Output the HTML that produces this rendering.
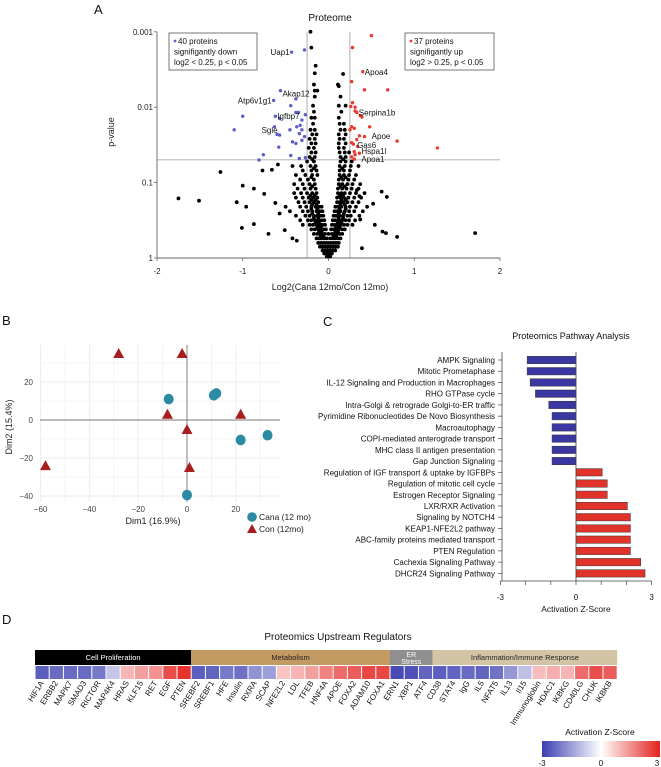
<!DOCTYPE html>
<html><head><meta charset="utf-8"><style>
html,body{margin:0;padding:0;background:#fff;}
svg{display:block;font-family:"Liberation Sans",Arial,sans-serif;}
</style></head><body>
<svg id="fig" width="661" height="767" viewBox="0 0 661 767">
<g id="volcano"></g>
<g id="pca"></g>
<g id="path"></g>
<g id="heat"></g>
</svg>
<script>
// ---------- Volcano data: [log2FC, -log10(p)] ----------
const volcanoBlack = [
[-0.02,0.02],[0,0.02],[0.02,0.02],
[-0.05,0.06],[-0.02,0.06],[0.01,0.06],[0.04,0.06],
[-0.07,0.1],[-0.04,0.1],[-0.01,0.1],[0.02,0.1],[0.05,0.1],[0.08,0.1],
[-0.1,0.15],[-0.07,0.15],[-0.04,0.15],[-0.01,0.15],[0.02,0.15],[0.05,0.15],[0.08,0.15],[0.11,0.15],
[-0.12,0.2],[-0.09,0.2],[-0.06,0.2],[-0.03,0.2],[0,0.2],[0.03,0.2],[0.06,0.2],[0.09,0.2],[0.12,0.2],
[-0.14,0.26],[-0.11,0.26],[-0.08,0.26],[-0.05,0.26],[-0.02,0.26],[0.02,0.26],[0.05,0.26],[0.08,0.26],[0.11,0.26],[0.14,0.26],
[-0.17,0.32],[-0.13,0.32],[-0.1,0.32],[-0.07,0.32],[-0.04,0.32],[0,0.32],[0.04,0.32],[0.07,0.32],[0.1,0.32],[0.13,0.32],[0.16,0.32],
[-0.2,0.38],[-0.16,0.38],[-0.12,0.38],[-0.09,0.38],[-0.06,0.38],[-0.03,0.38],[0.03,0.38],[0.06,0.38],[0.09,0.38],[0.12,0.38],[0.16,0.38],[0.19,0.38],
[-0.22,0.44],[-0.18,0.44],[-0.14,0.44],[-0.1,0.44],[-0.07,0.44],[-0.04,0.44],[0.04,0.44],[0.07,0.44],[0.1,0.44],[0.14,0.44],[0.18,0.44],[0.22,0.44],[-0.3,0.44],[0.28,0.44],
[-0.24,0.5],[-0.2,0.5],[-0.16,0.5],[-0.12,0.5],[-0.08,0.5],[-0.05,0.5],[0.05,0.5],[0.08,0.5],[0.12,0.5],[0.16,0.5],[0.2,0.5],[0.24,0.5],[-0.33,0.5],[0.31,0.5],
[-0.27,0.56],[-0.22,0.56],[-0.17,0.56],[-0.13,0.56],[-0.09,0.56],[-0.06,0.56],[0.06,0.56],[0.09,0.56],[0.13,0.56],[0.17,0.56],[0.22,0.56],[0.26,0.56],[-0.38,0.56],[0.36,0.56],
[-0.3,0.62],[-0.24,0.62],[-0.19,0.62],[-0.14,0.62],[-0.1,0.62],[-0.07,0.62],[0.07,0.62],[0.1,0.62],[0.14,0.62],[0.19,0.62],[0.24,0.62],[0.3,0.62],[-0.45,0.62],[0.4,0.62],
[-0.33,0.68],[-0.26,0.68],[-0.2,0.68],[-0.15,0.68],[-0.11,0.68],[-0.08,0.68],[0.08,0.68],[0.11,0.68],[0.15,0.68],[0.2,0.68],[0.25,0.68],[0.32,0.68],[-0.5,0.68],[0.45,0.68],
[-0.35,0.74],[-0.28,0.74],[-0.22,0.74],[-0.17,0.74],[-0.12,0.74],[0.1,0.74],[0.13,0.74],[0.17,0.74],[0.22,0.74],[0.28,0.74],[0.35,0.74],
[-0.38,0.8],[-0.3,0.8],[-0.23,0.8],[-0.18,0.8],[-0.13,0.8],[0.1,0.8],[0.14,0.8],[0.18,0.8],[0.23,0.8],[0.3,0.8],[0.38,0.8],
[-0.4,0.86],[-0.32,0.86],[-0.25,0.86],[-0.19,0.86],[-0.14,0.86],[0.11,0.86],[0.15,0.86],[0.19,0.86],[0.25,0.86],[0.32,0.86],[0.42,0.86],
[-0.36,0.92],[-0.28,0.92],[-0.21,0.92],[-0.15,0.92],[0.11,0.92],[0.16,0.92],[0.21,0.92],[0.27,0.92],[0.35,0.92],
[-0.4,0.98],[-0.3,0.98],[-0.22,0.98],[-0.16,0.98],[0.12,0.98],[0.16,0.98],[0.22,0.98],[0.28,0.98],[0.37,0.98],
[-0.33,1.04],[-0.24,1.04],[-0.17,1.04],[0.12,1.04],[0.17,1.04],[0.23,1.04],[0.3,1.04],
[-0.38,1.1],[-0.27,1.1],[-0.19,1.1],[-0.13,1.1],[0.13,1.1],[0.18,1.1],[0.24,1.1],[0.32,1.1],
[-0.3,1.16],[-0.2,1.16],[-0.14,1.16],[0.13,1.16],[0.18,1.16],[0.25,1.16],
[-0.42,1.22],[-0.32,1.22],[-0.21,1.22],[-0.15,1.22],[0.13,1.22],[0.19,1.22],[0.26,1.22],[0.35,1.22],
[-0.25,1.28],[-0.17,1.28],[0.14,1.28],[0.2,1.28],[0.27,1.28],
[-0.22,1.34],[-0.16,1.34],[0.14,1.34],[0.2,1.34],
[-0.2,1.4],[-0.15,1.4],[0.13,1.4],[0.19,1.4],[0.24,1.4],
[-0.23,1.46],[-0.17,1.46],[0.12,1.46],[0.18,1.46],
[-0.2,1.52],[-0.15,1.52],[0.12,1.52],[0.2,1.52],
[-0.22,1.58],[-0.16,1.58],[0.13,1.58],[0.18,1.58],
[-0.19,1.64],[-0.14,1.64],[0.12,1.64],[0.2,1.64],
[-0.21,1.7],[-0.16,1.7],[0.14,1.7],[0.19,1.7],
[-0.18,1.78],[0.13,1.78],[0.18,1.78],
[-0.2,1.86],[-0.16,1.86],[0.12,1.86],
[-0.17,1.94],[0.15,1.94],
[-0.18,2.02],[0.12,2.02],[0.2,2.02],
[-0.16,2.14],[0.14,2.14],[-0.16,2.22],[-0.13,2.22],[-0.17,2.3],[0.11,2.3],
[-0.16,2.45],[0.17,2.44],[0.12,2.28],[-0.15,2.55],[-0.2,2.79],[-0.21,3.0],
[-1.75,0.79],[-1.51,0.76],[-1.26,1.14],[-1.0,0.96],[-1.07,0.74],[-0.96,0.68],[-0.87,0.92],[-1.01,0.4],[-0.87,0.45],[-0.7,0.32],
[-0.75,0.85],[-0.59,1.24],[-0.66,1.17],[-0.77,1.16],[-0.62,0.73],[-0.57,0.59],[-0.51,0.37],[-0.42,0.26],[-0.37,0.23],
[1.71,0.33],[0.8,0.28],[0.67,0.33],[0.63,0.35],[0.54,0.44],[0.62,0.88],[0.68,0.81],[0.52,0.72],[0.39,0.13],[0.37,0.51],[0.33,0.9],[0.36,0.82],
[-0.09,0.29],[-0.06,0.29],[0.06,0.29],[0.09,0.29],[-0.11,0.35],[-0.08,0.35],[0.08,0.35],[0.11,0.35],[-0.13,0.41],[-0.09,0.41],[0.09,0.41],[0.13,0.41],
[-0.15,0.47],[-0.11,0.47],[0.11,0.47],[0.15,0.47],[-0.17,0.53],[-0.12,0.53],[0.12,0.53],[0.17,0.53],[-0.19,0.59],[-0.12,0.59],[0.12,0.59],[0.18,0.59],
[-0.2,0.65],[-0.13,0.65],[0.13,0.65],[0.2,0.65],[-0.19,0.71],[-0.14,0.71],[0.14,0.71],[0.19,0.71],[-0.2,0.77],[-0.15,0.77],[0.15,0.77],[0.2,0.77],
[-0.21,0.83],[-0.16,0.83],[0.13,0.83],[0.17,0.83],[-0.19,0.95],[0.14,0.95],[0.19,0.95],[-0.2,1.07],[0.15,1.07],[0.2,1.07],[-0.17,1.19],[0.16,1.19],[-0.19,1.31],[0.17,1.31]
];
const volcanoUp = [
[0.5,2.95],[0.28,2.79],[0.4,2.47],[0.27,2.34],[0.42,2.23],[0.69,2.23],[0.28,2.06],[0.26,2.01],[0.31,2.0],[0.33,1.93],
[0.37,1.89],[0.39,1.87],[0.31,1.95],[0.48,1.74],[0.27,1.74],[0.3,1.72],[0.25,1.7],[0.8,1.55],[1.27,1.46],[0.42,1.61],
[0.36,1.62],[0.33,1.57],[0.27,1.53],[0.29,1.51],[0.34,1.48],[0.3,1.41],[0.36,1.39],[0.31,1.37],[0.27,1.34],[0.3,1.31]
];
const volcanoDown = [
[-0.28,2.76],[-0.43,2.73],[-0.56,2.22],[-0.64,2.09],[-0.38,2.11],[-0.44,2.02],[-1.0,1.88],[-1.1,1.7],[-0.62,1.88],[-0.57,1.85],
[-0.38,1.93],[-0.35,1.93],[-0.27,1.9],[-0.31,1.83],[-0.33,1.76],[-0.37,1.74],[-0.31,1.7],[-0.34,1.65],[-0.28,1.61],[-0.31,1.56],
[-0.42,1.54],[-0.38,1.52],[-0.45,1.7],[-0.57,1.63],[-0.6,1.64],[-0.63,1.74],[-0.58,1.47],[-0.76,1.37],[-0.81,1.3],[-0.44,1.36],
[-0.34,1.32],[-0.27,1.33]
];
const volcanoXTicks = [-2,-1,0,1,2];
const volcanoYTicks = ["0.001","0.01","0.1","1"];
const volcanoYTickVals = [3,2,1,0];
const geneLabels = ["Uap1","Atp6v1g1","Akap12","Igfbp7","Sgle","Apoa4","Serpina1b","Apoe","Gas6","Hspa1l","Apoa1"];
const geneLabelX = [-0.43,-0.64,-0.56,-0.62,-0.57,0.4,0.33,0.48,0.31,0.36,0.36];
const geneLabelY = [2.73,2.09,2.18,1.88,1.7,2.47,1.93,1.62,1.5,1.42,1.31];
const geneLabelSide = ["l","l","r","r","l","r","r","r","r","r","r"];

// ---------- PCA data ----------
const canaDim1 = [-7.5,11,12,22,33,0];
const canaDim2 = [11,13,14,-10.5,-8,-39.5];
const conDim1 = [-28,-2,-8,22,0,1,-58];
const conDim2 = [35,35,3,3,-5,-25,-24];
const pcaXTicks = [-60,-40,-20,0,20];
const pcaYTicks = [20,0,-20,-40];

// ---------- Pathway data ----------
const pathways = ["AMPK Signaling","Mitotic Prometaphase","IL-12 Signaling and Production in Macrophages","RHO GTPase cycle","Intra-Golgi & retrograde Golgi-to-ER traffic","Pyrimidine Ribonucleotides De Novo Biosynthesis","Macroautophagy","COPI-mediated anterograde transport","MHC class II antigen presentation","Gap Junction Signaling","Regulation of IGF transport & uptake by IGFBPs","Regulation of mitotic cell cycle","Estrogen Receptor Signaling","LXR/RXR Activation","Signaling by NOTCH4","KEAP1-NFE2L2 pathway","ABC-family proteins mediated transport","PTEN Regulation","Cachexia Signaling Pathway","DHCR24 Signaling Pathway"];
const pathwayZ = [-1.94,-1.94,-1.82,-1.61,-1.08,-0.95,-0.95,-0.95,-0.95,-0.95,1.04,1.24,1.24,2.04,2.16,2.16,2.16,2.16,2.57,2.74];
const zTicks = [-3,-2,-1,0,1,2,3];

// ---------- Heatmap data ----------
const regulators = ["HIF1A","ERBB2","MAPK7","SMAD3","RICTOR","MAP4K4","HRAS","KLF15","RET","EGF","PTEN","SREBF2","SREBF1","HFE","Insulin","RXRA","SCAP","NFE2L2","LDL","TFEB","HNF4A","APOE","FOXA2","ADAM10","FOXA1","ERN1","XBP1","ATF4","CD38","STAT4","IgG","IL5","NFAT5","IL13","Il15","Immunoglobin","HDAC1","IKBKG","CD40LG","CHUK","IKBKB"];
const regulatorZ = [-2.5,-2.3,-2.3,-2.3,-2.1,-0.9,1.0,1.3,1.5,2.4,2.8,-2.5,-2.4,-2.1,-2.2,-1.7,-1.5,0.8,1.0,1.3,1.7,2.0,2.2,2.5,2.5,-2.8,-2.7,-2.4,-2.5,-2.4,-2.3,-2.4,-2.2,-1.6,-1.0,0.9,1.1,1.0,2.0,2.4,2.2];
const groupNames = ["Cell Proliferation","Metabolism","ER\nStress","Inflammation/Immune Response"];
const groupSizes = [11,14,3,13];
const groupColors = ["#000000","#c49a63","#8f8f8f","#d4c4a6"];
const groupText = ["#ffffff","#222222","#ffffff","#222222"];

const NS="http://www.w3.org/2000/svg";
function mk(parent,tag,attrs,text){const e=document.createElementNS(NS,tag);for(const k in attrs)e.setAttribute(k,attrs[k]);if(text!==undefined)e.textContent=text;parent.appendChild(e);return e;}

// ================= Panel A =================
(function(){
const g=document.getElementById('volcano');
const X0=157,X1=500,Y0=258,Ydec=75.4;
const sx=v=>X0+(v+2)*(X1-X0)/4;
const sy=v=>Y0-v*Ydec;
let t=mk(g,'text',{x:94,y:14,'font-size':13,fill:'#111'},'A');

t=mk(g,'text',{x:330,y:21,'font-size':10,'text-anchor':'middle',fill:'#111'},'Proteome');

let l=mk(g,'line',{x1:sx(-0.25),x2:sx(-0.25),y1:sy(3),y2:Y0,stroke:'#9a9a9a','stroke-width':0.8});

l=mk(g,'line',{x1:sx(0.25),x2:sx(0.25),y1:sy(3),y2:Y0,stroke:'#9a9a9a','stroke-width':0.8});

l=mk(g,'line',{x1:X0,x2:X1,y1:sy(1.301),y2:sy(1.301),stroke:'#9a9a9a','stroke-width':0.8});

l=mk(g,'line',{x1:X0,x2:X0,y1:sy(3),y2:Y0,stroke:'#666','stroke-width':0.9});

l=mk(g,'line',{x1:X0,x2:X1,y1:Y0,y2:Y0,stroke:'#666','stroke-width':0.9});

volcanoXTicks.forEach(v=>{
  mk(g,'line',{x1:sx(v),x2:sx(v),y1:Y0,y2:Y0+3,stroke:'#666','stroke-width':0.8});
  const tt=mk(g,'text',{x:sx(v),y:Y0+16,'font-size':8,'text-anchor':'middle',fill:'#222'},String(v));
  
  
});
volcanoYTicks.forEach((s,i)=>{
  const y=sy(volcanoYTickVals[i]);
  mk(g,'line',{x1:X0-3,x2:X0,y1:y,y2:y,stroke:'#666','stroke-width':0.8});
  const tt=mk(g,'text',{x:X0-4,y:y+3,'font-size':8,'text-anchor':'end',fill:'#222'},s);
  
  
});
t=mk(g,'text',{x:330,y:290,'font-size':9,'text-anchor':'middle',fill:'#222'},'Log2(Cana 12mo/Con 12mo)');

t=mk(g,'text',{x:114,y:132,'font-size':9,'text-anchor':'middle',fill:'#222',transform:'rotate(-90 114 132)'},'p-value');

volcanoBlack.forEach(p=>{
  const c=mk(g,'circle',{cx:sx(p[0]),cy:sy(p[1]),r:1.9,fill:'#000'});
  
  
});
volcanoUp.forEach(p=>{
  const c=mk(g,'circle',{cx:sx(p[0]),cy:sy(p[1]),r:1.7,fill:'#e8392d'});
  
  
});
volcanoDown.forEach(p=>{
  const c=mk(g,'circle',{cx:sx(p[0]),cy:sy(p[1]),r:1.7,fill:'#5b5fc7'});
  
  
});
geneLabels.forEach((s,i)=>{
  const right=geneLabelSide[i]==='r';
  const tt=mk(g,'text',{x:sx(geneLabelX[i])+(right?2:-2),y:sy(geneLabelY[i])+3,'font-size':8,'text-anchor':right?'start':'end',fill:'#111'},s);
  
  
});
function box(x,w,color,lines,name){
  const bg=mk(g,'g',{});
  
  mk(bg,'rect',{x:x,y:33,width:w,height:37,fill:'#fff',stroke:'#555','stroke-width':0.8});
  mk(bg,'circle',{cx:x+6,cy:41,r:1.4,fill:color});
  mk(bg,'text',{x:x+9,y:44,'font-size':8,fill:'#111'},lines[0]);
  mk(bg,'text',{x:x+5,y:54.5,'font-size':8,fill:'#111'},lines[1]);
  mk(bg,'text',{x:x+5,y:65,'font-size':8,fill:'#111'},lines[2]);
}
box(169,88,'#5b5fc7',['40 proteins','signifigantly down','log2 < 0.25, p < 0.05'],'legend-down-box');
box(405,89,'#e8392d',['37 proteins','signifigantly up','log2 > 0.25, p < 0.05'],'legend-up-box');
})();

// ================= Panel B =================
(function(){
const g=document.getElementById('pca');
const L=40,R=280,T=345,B=502;
const sx=v=>187+v*2.44;
const sy=v=>420-v*1.9;
let t=mk(g,'text',{x:2,y:325,'font-size':13,fill:'#111'},'B');

for(let v=-60;v<=30;v+=10){ if(sx(v)>=L-1&&sx(v)<=R) mk(g,'line',{x1:sx(v),x2:sx(v),y1:T,y2:B,stroke:'#ececec','stroke-width':v%20===0?1:0.6}); }
for(let v=-40;v<=30;v+=10){ mk(g,'line',{x1:L,x2:R,y1:sy(v),y2:sy(v),stroke:'#ececec','stroke-width':v%20===0?1:0.6}); }
let l=mk(g,'line',{x1:sx(0),x2:sx(0),y1:T,y2:B,stroke:'#777','stroke-width':0.9});

l=mk(g,'line',{x1:L,x2:R,y1:sy(0),y2:sy(0),stroke:'#777','stroke-width':0.9});

pcaXTicks.forEach(v=>{
  const tt=mk(g,'text',{x:sx(v),y:512,'font-size':8,'text-anchor':'middle',fill:'#444'},String(v).replace('-','\u2212'));
  
  
});
pcaYTicks.forEach(v=>{
  const tt=mk(g,'text',{x:33,y:sy(v)+3,'font-size':8,'text-anchor':'end',fill:'#444'},String(v).replace('-','\u2212'));
  
  
});
t=mk(g,'text',{x:153,y:524,'font-size':9,'text-anchor':'middle',fill:'#222'},'Dim1 (16.9%)');

t=mk(g,'text',{x:12,y:427,'font-size':9,'text-anchor':'middle',fill:'#222',transform:'rotate(-90 12 427)'},'Dim2 (15.4%)');

canaDim1.forEach((v,i)=>{
  const c=mk(g,'ellipse',{cx:sx(v),cy:sy(canaDim2[i]),rx:5,ry:5.3,fill:'#2b8ba3'});
  
  
});
conDim1.forEach((v,i)=>{
  const x=sx(v),y=sy(conDim2[i]);
  const p=mk(g,'polygon',{points:`${x},${y-5.5} ${x-5.5},${y+4.5} ${x+5.5},${y+4.5}`,fill:'#a81d1d'});
  
  
});
const lg=mk(g,'g',{});

mk(lg,'circle',{cx:252,cy:517,r:4.8,fill:'#2b8ba3'});
mk(lg,'text',{x:259,y:520,'font-size':8.5,fill:'#222'},'Cana (12 mo)');
mk(lg,'polygon',{points:'252,524 247,533 257,533',fill:'#a81d1d'});
mk(lg,'text',{x:259,y:532,'font-size':8.5,fill:'#222'},'Con (12mo)');
})();

// ================= Panel C =================
(function(){
const g=document.getElementById('path');
const sx=v=>576+v*25.2;
const rowY=i=>360+i*11.23;
let t=mk(g,'text',{x:323,y:326,'font-size':13,fill:'#111'},'C');

t=mk(g,'text',{x:571,y:339,'font-size':9,'text-anchor':'middle',fill:'#111'},'Proteomics Pathway Analysis');

mk(g,'line',{x1:502,x2:502,y1:352,y2:581,stroke:'#444','stroke-width':0.8});
pathways.forEach((s,i)=>{
  const y=rowY(i),v=pathwayZ[i];
  const x0=Math.min(sx(0),sx(v)),w=Math.abs(sx(v)-sx(0));
  const r=mk(g,'rect',{x:x0,y:y-3.7,width:w,height:7.4,fill:v<0?'#3a37a3':'#e2332b',stroke:'#333','stroke-width':0.5});
  
  
  mk(g,'line',{x1:498,x2:502,y1:y,y2:y,stroke:'#444','stroke-width':0.7});
  const tt=mk(g,'text',{x:495,y:y+3,'font-size':8,'text-anchor':'end',fill:'#111'},s);
  
  
});
mk(g,'line',{x1:sx(0),x2:sx(0),y1:352,y2:581,stroke:'#444','stroke-width':0.8});
let l=mk(g,'line',{x1:sx(-3),x2:sx(3),y1:581,y2:581,stroke:'#444','stroke-width':0.8});

zTicks.forEach(v=>{
  mk(g,'line',{x1:sx(v),x2:sx(v),y1:581,y2:585,stroke:'#444','stroke-width':0.7});
  if(v===-3||v===0||v===3){
    const tt=mk(g,'text',{x:sx(v),y:600,'font-size':8,'text-anchor':'middle',fill:'#111'},String(v));
    
    
  }
});
t=mk(g,'text',{x:576,y:612,'font-size':8.5,'text-anchor':'middle',fill:'#111'},'Activation Z-Score');

})();

// ================= Panel D =================
(function(){
const g=document.getElementById('heat');
const X0=35,CW=14.2;
function col(z){
  const a=Math.max(-1,Math.min(1,z/3));
  let c;
  if(a<0){const f=-a;c=[255+(59-255)*f,255+(62-255)*f,255+(176-255)*f];}
  else{const f=a;c=[255+(228-255)*f,255+(34-255)*f,255+(30-255)*f];}
  return `rgb(${c.map(Math.round).join(',')})`;
}
let t=mk(g,'text',{x:2,y:624,'font-size':13,fill:'#111'},'D');

t=mk(g,'text',{x:338,y:640,'font-size':10,'text-anchor':'middle',fill:'#111'},'Proteomics Upstream Regulators');

let start=0;
groupNames.forEach((n,i)=>{
  const x=X0+start*CW,w=groupSizes[i]*CW;
  const gg=mk(g,'g',{});
  
  
  mk(gg,'rect',{x:x,y:650,width:w,height:15,fill:groupColors[i]});
  const parts=n.split('\n');
  parts.forEach((p,j)=>{
    mk(gg,'text',{x:x+w/2,y:parts.length>1?657+j*7:660,'font-size':parts.length>1?7:7.5,'text-anchor':'middle',fill:groupText[i]},p);
  });
  start+=groupSizes[i];
});
regulators.forEach((s,i)=>{
  const x=X0+i*CW;
  const r=mk(g,'rect',{x:x+0.5,y:666,width:CW-1,height:13,fill:col(regulatorZ[i])});
  
  
  const cx=x+CW/2+2,cy=683;
  const tt=mk(g,'text',{x:cx,y:cy,'font-size':8,'text-anchor':'end',fill:'#111',transform:`rotate(-58 ${cx} ${cy})`},s);
  
  
});
const defs=mk(g,'defs',{});
const lgr=mk(defs,'linearGradient',{id:'cb',x1:0,x2:1,y1:0,y2:0});
mk(lgr,'stop',{offset:'0','stop-color':col(-3)});
mk(lgr,'stop',{offset:'0.5','stop-color':'#ffffff'});
mk(lgr,'stop',{offset:'1','stop-color':col(3)});
const cb=mk(g,'g',{});

mk(cb,'text',{x:600,y:735,'font-size':8.5,'text-anchor':'middle',fill:'#111'},'Activation Z-Score');
mk(cb,'rect',{x:542,y:741,width:118,height:16,fill:'url(#cb)'});
[[-3,542],[0,601],[3,657]].forEach(p=>{mk(cb,'text',{x:p[1],y:766,'font-size':8,'text-anchor':'middle',fill:'#111'},String(p[0]));});
})();
</script>
</body></html>
